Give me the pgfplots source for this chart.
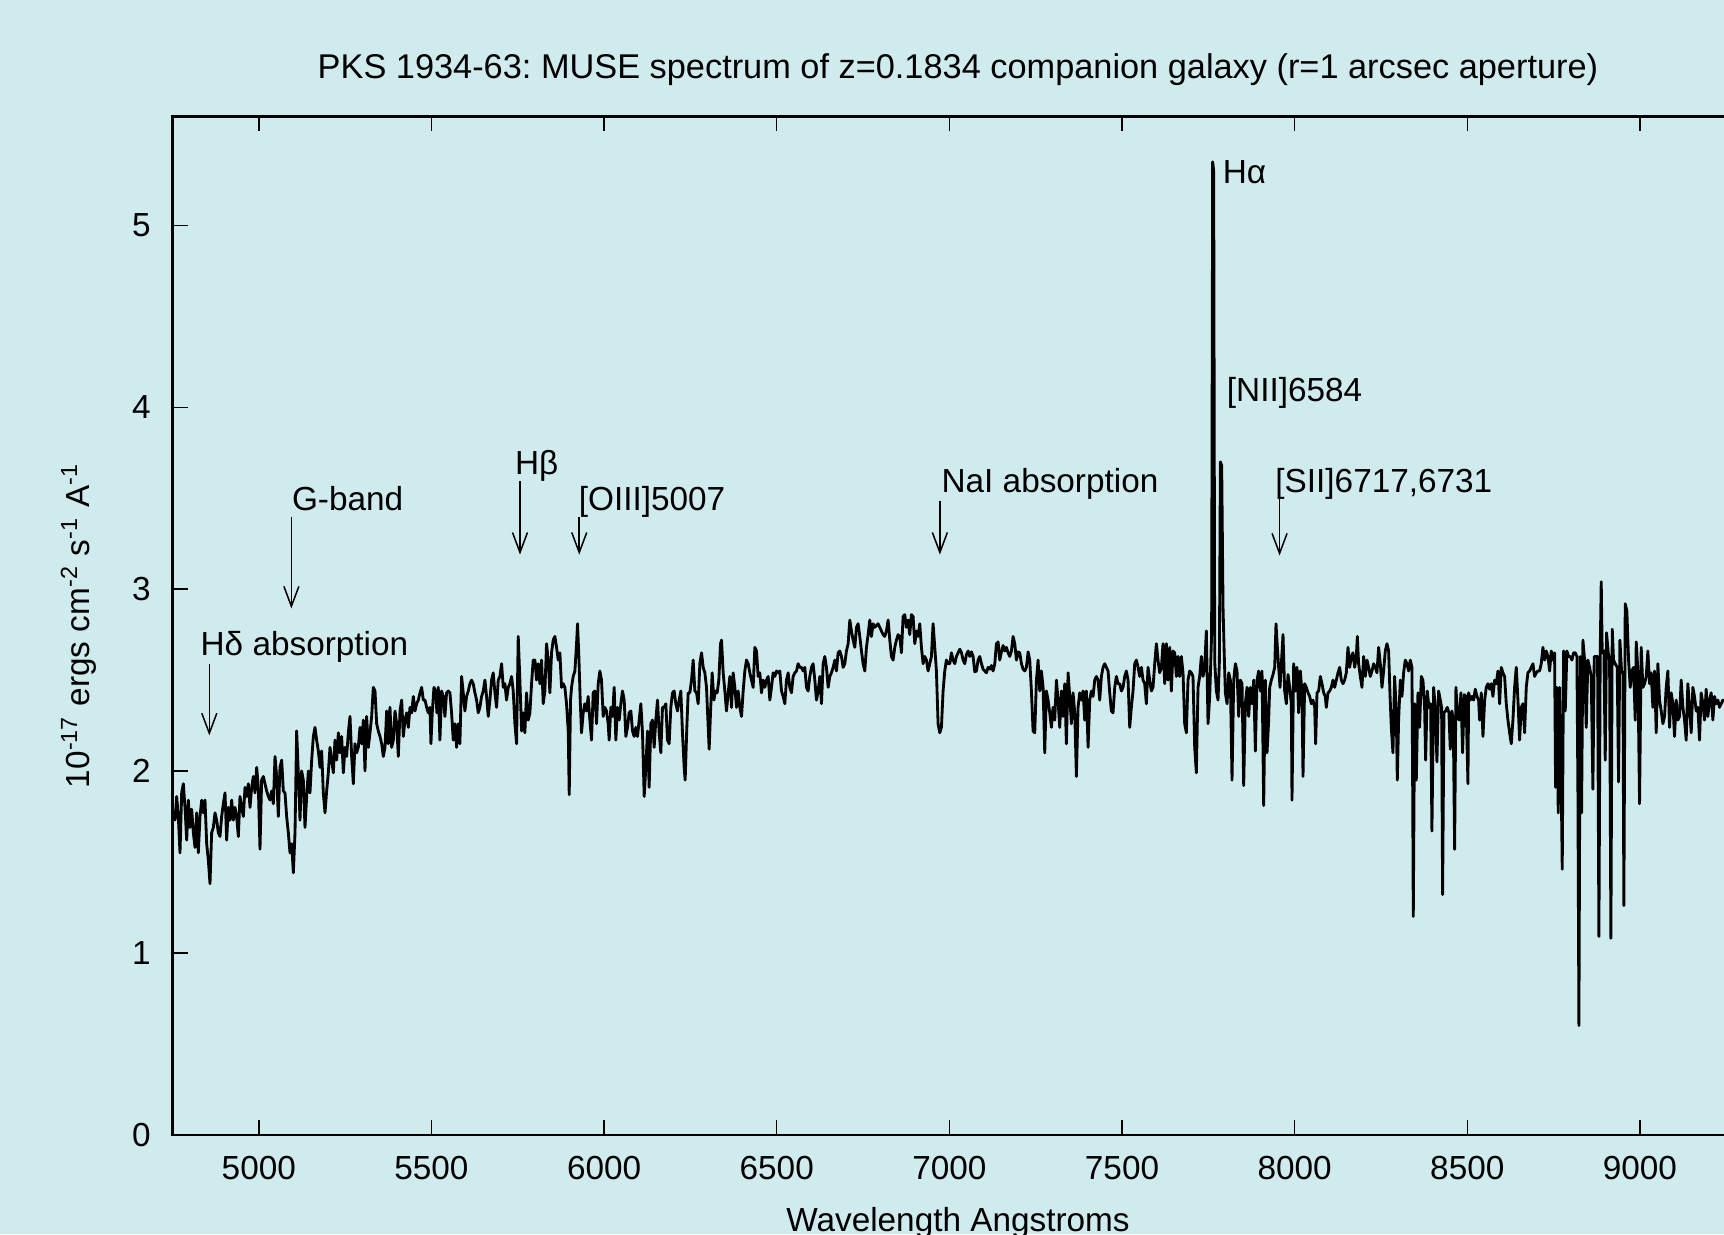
\documentclass[border=0pt]{standalone}
\usepackage{fontspec}
\setmainfont{Liberation Sans}
\usepackage{pgfplots}
\usepackage{pgfplotstable}
\pgfplotsset{compat=1.18}
\usetikzlibrary{arrows.meta}
\definecolor{bg}{RGB}{208,235,238}
\frenchspacing
\pgfplotstableread{
lam f
4751.0 1.78
4757.3 1.73
4762.1 1.86
4766.9 1.75
4771.7 1.55
4776.6 1.88
4781.4 1.93
4786.2 1.80
4791.1 1.62
4795.9 1.84
4800.7 1.69
4805.5 1.79
4810.4 1.66
4815.2 1.58
4820.0 1.77
4824.8 1.55
4829.7 1.75
4834.5 1.84
4839.3 1.77
4844.1 1.84
4849.0 1.60
4853.8 1.51
4858.6 1.38
4863.4 1.66
4868.3 1.69
4873.1 1.77
4877.9 1.73
4882.8 1.66
4887.6 1.64
4892.4 1.75
4897.2 1.82
4902.1 1.88
4906.9 1.62
4911.7 1.80
4916.5 1.73
4921.4 1.84
4926.2 1.73
4931.0 1.80
4935.8 1.75
4940.7 1.64
4945.5 1.86
4950.3 1.80
4955.2 1.75
4960.0 1.91
4964.8 1.86
4969.6 1.93
4974.5 1.80
4979.3 1.91
4984.1 1.97
4988.9 1.88
4993.8 2.02
4998.6 1.91
5003.4 1.57
5008.2 1.95
5013.1 1.97
5017.9 1.93
5022.7 1.89
5027.6 1.86
5032.4 1.84
5037.2 1.89
5042.0 1.82
5046.9 2.08
5051.7 1.97
5056.5 1.75
5061.3 2.02
5066.2 2.06
5071.0 1.89
5075.8 1.88
5080.6 1.75
5085.5 1.66
5090.3 1.55
5095.1 1.60
5100.0 1.44
5104.8 1.66
5109.6 2.22
5114.4 1.99
5119.3 1.73
5124.1 2.00
5128.9 1.95
5133.7 1.69
5138.6 1.86
5143.4 2.00
5148.2 1.88
5153.1 2.06
5157.9 2.19
5162.7 2.24
5167.5 2.17
5172.4 2.11
5177.2 2.02
5182.0 2.11
5186.8 1.88
5191.7 1.77
5196.5 1.89
5201.3 1.99
5206.1 2.13
5211.0 2.06
5215.8 1.99
5220.6 2.17
5225.5 2.06
5230.3 2.21
5235.1 2.10
5239.9 2.19
5244.8 1.99
5249.6 2.13
5254.4 2.08
5259.2 2.21
5264.1 2.30
5268.9 2.08
5273.7 1.93
5278.5 2.15
5283.4 2.10
5288.2 2.13
5293.0 2.24
5297.9 2.15
5302.7 2.28
5307.5 2.00
5312.3 2.30
5317.2 2.13
5322.0 2.21
5326.8 2.30
5331.6 2.46
5336.5 2.44
5341.3 2.26
5346.1 2.22
5351.0 2.19
5355.8 2.15
5360.6 2.08
5365.4 2.13
5370.3 2.33
5375.1 2.15
5379.9 2.35
5384.7 2.13
5389.6 2.17
5394.4 2.33
5399.2 2.26
5404.0 2.08
5408.9 2.33
5413.7 2.39
5418.5 2.19
5423.4 2.28
5428.2 2.32
5433.0 2.24
5437.8 2.35
5442.7 2.32
5447.5 2.41
5452.3 2.33
5457.1 2.37
5462.0 2.39
5466.8 2.43
5471.6 2.46
5476.4 2.39
5481.3 2.39
5486.1 2.35
5490.8 2.32
5495.6 2.35
5498.5 2.15
5502.3 2.32
5507.2 2.46
5512.0 2.44
5515.8 2.32
5519.7 2.46
5524.5 2.17
5529.4 2.44
5534.2 2.41
5539.0 2.30
5543.8 2.43
5548.7 2.44
5553.5 2.43
5558.3 2.32
5563.1 2.17
5568.0 2.26
5572.8 2.13
5577.6 2.26
5582.4 2.15
5587.3 2.52
5592.1 2.43
5596.9 2.33
5601.7 2.41
5606.6 2.44
5611.4 2.48
5616.2 2.50
5621.0 2.48
5625.9 2.43
5630.7 2.39
5635.5 2.32
5640.3 2.35
5645.2 2.41
5650.0 2.44
5654.8 2.50
5659.6 2.41
5664.5 2.30
5669.3 2.39
5674.1 2.50
5678.9 2.54
5683.8 2.43
5688.6 2.35
5693.4 2.50
5698.2 2.52
5703.1 2.59
5707.9 2.46
5712.7 2.48
5717.5 2.39
5722.4 2.46
5727.2 2.48
5732.0 2.52
5736.8 2.44
5741.7 2.26
5746.5 2.15
5751.3 2.74
5756.1 2.50
5761.0 2.22
5765.8 2.32
5770.6 2.21
5775.4 2.43
5780.3 2.28
5785.1 2.32
5789.9 2.48
5794.7 2.61
5799.6 2.61
5804.4 2.50
5809.2 2.59
5814.0 2.48
5818.9 2.61
5823.7 2.37
5828.5 2.44
5833.3 2.70
5838.2 2.61
5843.0 2.43
5847.8 2.65
5852.6 2.72
5857.5 2.74
5862.3 2.68
5867.1 2.61
5871.9 2.65
5876.8 2.46
5881.6 2.48
5886.4 2.46
5891.2 2.37
5896.1 2.22
5899.0 1.87
5902.8 2.39
5905.7 2.46
5910.5 2.52
5915.4 2.55
5920.2 2.70
5923.1 2.81
5926.9 2.63
5930.8 2.39
5934.6 2.21
5939.5 2.32
5944.3 2.37
5949.1 2.33
5953.9 2.41
5958.8 2.28
5963.6 2.17
5968.4 2.43
5973.2 2.44
5978.1 2.26
5982.9 2.48
5987.7 2.55
5992.5 2.50
5997.4 2.30
6002.2 2.35
6007.0 2.33
6011.8 2.26
6014.7 2.17
6019.6 2.35
6024.4 2.30
6029.2 2.46
6034.0 2.17
6038.9 2.35
6043.7 2.28
6048.5 2.37
6053.3 2.44
6058.2 2.39
6063.0 2.19
6067.8 2.24
6072.6 2.32
6077.5 2.33
6082.3 2.22
6087.1 2.19
6091.9 2.24
6096.8 2.19
6101.6 2.28
6106.4 2.37
6111.2 2.21
6116.1 1.86
6120.9 2.02
6125.7 2.22
6130.5 1.91
6135.4 2.26
6140.2 2.28
6145.0 2.13
6149.8 2.28
6154.7 2.39
6159.5 2.21
6164.3 2.10
6169.1 2.35
6174.0 2.35
6178.8 2.37
6183.6 2.17
6188.4 2.15
6193.3 2.35
6198.1 2.43
6202.9 2.44
6207.7 2.37
6212.6 2.33
6217.4 2.39
6222.2 2.44
6227.0 2.21
6231.9 2.02
6234.8 1.95
6239.6 2.24
6243.5 2.43
6248.4 2.43
6253.2 2.50
6258.0 2.61
6262.9 2.44
6267.7 2.43
6272.5 2.37
6277.3 2.59
6282.2 2.65
6287.0 2.57
6291.8 2.54
6296.6 2.46
6301.5 2.24
6304.3 2.12
6308.2 2.32
6313.0 2.54
6317.9 2.39
6322.7 2.44
6327.5 2.43
6332.3 2.50
6337.2 2.70
6340.1 2.72
6344.9 2.54
6349.7 2.44
6354.5 2.33
6359.4 2.43
6364.2 2.52
6369.0 2.35
6373.8 2.54
6378.7 2.46
6383.5 2.35
6388.3 2.44
6393.1 2.35
6398.0 2.30
6402.8 2.44
6407.6 2.55
6412.4 2.61
6417.3 2.59
6422.1 2.54
6426.9 2.50
6431.7 2.46
6436.6 2.68
6441.4 2.66
6446.2 2.52
6451.0 2.54
6455.9 2.43
6460.7 2.50
6465.5 2.46
6470.3 2.50
6475.2 2.52
6480.0 2.39
6484.8 2.46
6489.6 2.54
6494.5 2.52
6499.3 2.55
6504.1 2.54
6508.9 2.55
6513.8 2.44
6518.6 2.41
6523.4 2.37
6528.2 2.50
6533.1 2.54
6537.9 2.46
6542.7 2.43
6547.5 2.52
6552.4 2.54
6557.2 2.55
6562.0 2.59
6566.8 2.57
6571.7 2.57
6576.5 2.55
6581.3 2.57
6586.1 2.46
6591.0 2.44
6595.8 2.52
6600.6 2.57
6605.4 2.59
6610.3 2.50
6615.1 2.39
6619.9 2.44
6624.7 2.52
6629.6 2.37
6634.4 2.59
6639.2 2.63
6644.0 2.57
6648.9 2.46
6653.7 2.52
6658.5 2.54
6663.3 2.57
6668.2 2.61
6673.0 2.55
6677.8 2.65
6682.6 2.66
6687.5 2.63
6692.3 2.57
6697.1 2.59
6701.9 2.66
6706.8 2.70
6711.6 2.83
6716.4 2.77
6721.2 2.72
6726.1 2.68
6730.9 2.79
6735.7 2.81
6740.5 2.74
6745.4 2.66
6750.2 2.59
6755.0 2.55
6759.8 2.68
6764.7 2.75
6769.5 2.83
6774.3 2.74
6779.1 2.81
6784.0 2.79
6788.8 2.80
6793.6 2.81
6798.4 2.79
6803.3 2.77
6808.1 2.75
6812.9 2.74
6817.7 2.77
6822.6 2.83
6827.4 2.72
6832.2 2.63
6837.0 2.61
6841.9 2.68
6846.7 2.72
6851.5 2.75
6856.3 2.74
6861.2 2.65
6866.0 2.85
6870.8 2.86
6875.6 2.79
6880.5 2.83
6885.3 2.75
6890.1 2.86
6894.9 2.85
6899.8 2.70
6904.6 2.77
6909.4 2.74
6914.2 2.81
6919.1 2.68
6923.9 2.59
6928.7 2.63
6933.5 2.61
6938.4 2.55
6943.2 2.59
6948.0 2.63
6952.8 2.81
6957.7 2.68
6962.5 2.55
6967.3 2.26
6972.1 2.21
6977.0 2.24
6981.8 2.44
6986.6 2.55
6991.4 2.61
6996.3 2.59
7001.2 2.59
7006.0 2.65
7010.8 2.61
7015.7 2.59
7020.5 2.63
7025.3 2.65
7030.1 2.67
7035.0 2.65
7039.8 2.61
7044.6 2.59
7049.4 2.64
7054.3 2.66
7059.1 2.63
7063.9 2.655
7068.7 2.63
7073.6 2.545
7078.4 2.55
7083.2 2.61
7088.0 2.63
7092.9 2.59
7097.7 2.56
7102.5 2.55
7107.3 2.54
7112.2 2.57
7117.0 2.56
7121.8 2.58
7126.6 2.55
7131.5 2.59
7136.3 2.70
7141.1 2.71
7145.9 2.61
7150.8 2.655
7155.6 2.69
7160.4 2.66
7165.2 2.68
7170.1 2.65
7174.9 2.63
7179.7 2.66
7184.5 2.74
7189.4 2.70
7194.2 2.61
7199.0 2.655
7203.8 2.65
7208.7 2.59
7213.5 2.56
7218.3 2.55
7223.1 2.57
7228.0 2.655
7232.8 2.61
7237.6 2.44
7242.4 2.22
7247.3 2.21
7252.1 2.50
7256.9 2.61
7261.7 2.44
7266.6 2.55
7271.4 2.46
7276.2 2.10
7281.0 2.44
7285.9 2.39
7290.7 2.32
7295.5 2.24
7300.3 2.35
7305.2 2.28
7310.0 2.50
7314.8 2.39
7319.6 2.24
7324.5 2.44
7329.3 2.30
7334.1 2.48
7338.9 2.15
7343.8 2.54
7348.6 2.41
7353.4 2.26
7358.2 2.43
7363.1 2.32
7367.9 1.97
7372.7 2.35
7377.5 2.43
7382.4 2.39
7387.2 2.44
7392.0 2.28
7396.8 2.44
7401.7 2.13
7406.5 2.39
7411.3 2.44
7416.1 2.41
7421.0 2.50
7425.8 2.52
7430.6 2.50
7435.4 2.39
7440.3 2.52
7445.1 2.57
7449.9 2.59
7454.7 2.57
7459.6 2.55
7464.4 2.43
7469.2 2.33
7474.0 2.32
7478.9 2.46
7483.7 2.52
7488.5 2.48
7493.3 2.48
7498.2 2.44
7503.0 2.46
7507.8 2.52
7512.6 2.55
7517.5 2.50
7522.3 2.24
7527.1 2.35
7531.9 2.44
7536.8 2.59
7541.6 2.61
7546.4 2.57
7551.2 2.52
7556.1 2.57
7560.9 2.50
7565.7 2.48
7570.5 2.37
7575.4 2.57
7580.2 2.50
7585.0 2.44
7589.8 2.46
7594.7 2.59
7599.5 2.70
7604.3 2.61
7609.1 2.54
7614.0 2.57
7618.8 2.70
7623.6 2.48
7628.4 2.70
7633.3 2.50
7638.1 2.68
7642.9 2.44
7647.7 2.66
7652.6 2.65
7657.4 2.52
7662.2 2.63
7667.0 2.52
7671.9 2.63
7676.7 2.54
7681.5 2.26
7686.3 2.21
7691.2 2.50
7696.0 2.55
7700.8 2.54
7705.6 2.52
7710.5 2.13
7715.3 1.99
7720.1 2.46
7724.9 2.52
7729.8 2.63
7734.6 2.52
7739.4 2.57
7744.2 2.77
7749.1 2.26
7754.0 2.41
7759.5 2.75
7762.5 5.35
7765.5 5.30
7768.5 2.60
7773.3 2.44
7778.1 2.39
7782.0 2.60
7784.9 3.70
7788.7 3.68
7792.6 2.90
7795.5 2.68
7799.3 2.43
7804.2 2.37
7809.0 2.54
7813.8 2.50
7818.6 1.95
7823.5 2.50
7828.3 2.59
7833.1 2.55
7837.9 2.30
7842.8 2.50
7847.6 2.48
7852.4 1.92
7857.2 2.37
7862.1 2.46
7866.9 2.30
7871.7 2.46
7876.5 2.37
7881.4 2.50
7886.2 2.11
7891.0 2.50
7895.8 2.55
7900.7 2.44
7905.5 2.55
7910.3 1.81
7915.1 2.50
7920.0 2.10
7924.8 2.28
7927.7 2.46
7932.5 2.50
7937.3 2.53
7942.2 2.57
7946.0 2.81
7949.9 2.68
7953.7 2.57
7957.6 2.46
7961.5 2.59
7966.3 2.75
7971.1 2.44
7975.9 2.37
7980.8 2.53
7985.6 2.46
7990.4 2.37
7992.3 1.84
7997.2 2.59
8002.0 2.44
8006.8 2.57
8011.6 2.32
8016.5 2.55
8021.3 2.43
8024.2 1.97
8029.0 2.48
8033.8 2.46
8038.7 2.43
8043.5 2.41
8048.3 2.37
8053.1 2.39
8058.0 2.35
8060.8 2.15
8064.7 2.43
8069.5 2.44
8074.4 2.52
8079.2 2.48
8084.0 2.43
8088.8 2.41
8091.7 2.35
8096.6 2.43
8101.4 2.44
8106.2 2.46
8111.0 2.50
8115.9 2.46
8120.7 2.50
8125.5 2.54
8130.3 2.57
8135.2 2.50
8140.0 2.48
8144.8 2.50
8149.6 2.54
8154.5 2.68
8159.3 2.57
8164.1 2.63
8168.9 2.65
8173.8 2.57
8178.6 2.63
8181.5 2.74
8185.3 2.59
8190.2 2.52
8195.0 2.46
8199.8 2.63
8204.6 2.52
8209.5 2.61
8214.3 2.57
8219.1 2.52
8223.9 2.55
8228.8 2.59
8233.6 2.57
8238.4 2.54
8243.2 2.68
8248.1 2.59
8252.9 2.46
8257.7 2.55
8262.5 2.66
8267.4 2.70
8272.2 2.66
8276.0 2.43
8279.9 2.24
8284.7 2.10
8289.6 2.52
8294.4 2.32
8297.3 1.95
8301.1 2.28
8306.0 2.50
8310.8 2.41
8315.6 2.54
8320.4 2.61
8325.3 2.59
8330.1 2.55
8334.9 2.61
8339.7 2.57
8341.7 1.95
8343.6 1.20
8347.5 2.37
8352.3 1.95
8357.1 2.43
8361.9 2.24
8366.8 2.52
8371.6 2.50
8376.4 2.35
8379.3 2.06
8384.1 2.44
8389.0 2.35
8393.8 2.37
8397.6 1.67
8402.5 2.46
8407.3 2.35
8412.1 2.05
8416.9 2.44
8421.8 2.39
8425.6 2.35
8428.5 1.32
8432.4 2.32
8437.2 2.33
8442.0 2.35
8446.8 2.32
8450.7 2.12
8455.5 2.33
8459.4 2.28
8463.3 1.57
8467.1 2.46
8471.9 2.30
8476.8 2.28
8481.6 2.43
8486.4 2.10
8491.2 2.42
8496.1 2.41
8501.9 1.93
8503.9 2.43
8508.7 2.39
8513.5 2.41
8518.3 2.39
8523.2 2.45
8528.0 2.41
8532.8 2.39
8535.7 2.28
8540.5 2.43
8545.4 2.19
8550.2 2.39
8555.0 2.46
8559.8 2.48
8564.7 2.45
8569.5 2.48
8574.3 2.41
8579.1 2.50
8584.0 2.48
8588.8 2.55
8593.6 2.37
8598.4 2.57
8603.3 2.54
8608.1 2.52
8612.9 2.37
8617.7 2.28
8622.6 2.21
8627.4 2.15
8632.2 2.28
8637.0 2.46
8641.9 2.57
8646.7 2.39
8651.5 2.17
8656.3 2.35
8661.2 2.37
8666.0 2.21
8670.8 2.46
8675.6 2.54
8680.5 2.55
8685.3 2.57
8690.1 2.59
8694.9 2.52
8699.8 2.54
8704.6 2.55
8709.4 2.55
8714.2 2.59
8719.1 2.68
8723.9 2.61
8728.7 2.66
8733.5 2.63
8738.4 2.55
8743.2 2.66
8748.0 2.61
8752.8 2.65
8755.7 1.91
8759.6 2.46
8763.4 1.77
8767.3 2.46
8771.2 2.06
8775.0 1.46
8778.9 2.66
8783.7 2.33
8788.5 2.66
8793.4 2.63
8798.2 2.63
8803.0 2.61
8807.8 2.65
8812.7 2.65
8817.5 2.63
8820.4 1.88
8823.3 0.60
8827.1 2.63
8831.0 1.77
8834.9 2.72
8839.7 2.61
8844.5 2.24
8849.3 2.61
8854.2 2.57
8859.0 2.52
8863.8 1.90
8867.7 2.63
8872.5 2.63
8877.3 2.63
8881.2 1.09
8885.0 2.66
8887.9 3.04
8890.8 2.65
8895.6 2.66
8899.5 2.06
8903.4 2.76
8908.2 2.65
8912.1 2.61
8915.9 1.08
8919.8 2.78
8923.6 2.61
8928.5 2.59
8934.2 2.57
8938.1 1.94
8942.0 2.72
8946.8 2.55
8950.7 2.54
8953.5 1.26
8957.4 2.92
8962.2 2.88
8967.1 2.61
8971.9 2.46
8976.7 2.55
8981.5 2.57
8986.4 2.28
8989.3 2.71
8994.1 2.55
8998.9 1.82
9003.7 2.68
9008.6 2.46
9013.4 2.48
9018.2 2.52
9023.0 2.66
9027.9 2.48
9032.7 2.54
9037.5 2.35
9042.3 2.55
9047.2 2.21
9052.0 2.59
9056.8 2.39
9061.6 2.33
9066.5 2.26
9071.3 2.30
9076.1 2.46
9080.9 2.55
9085.8 2.24
9090.6 2.43
9095.4 2.37
9100.2 2.19
9105.1 2.39
9109.9 2.28
9114.7 2.30
9119.5 2.50
9124.4 2.35
9129.2 2.28
9134.0 2.17
9138.8 2.48
9143.7 2.35
9148.5 2.21
9153.3 2.46
9158.1 2.41
9163.0 2.33
9167.8 2.35
9172.6 2.17
9177.4 2.43
9182.3 2.37
9187.1 2.28
9191.9 2.45
9196.7 2.30
9201.6 2.39
9206.4 2.43
9211.2 2.28
9216.0 2.41
9220.9 2.37
9225.7 2.39
9230.5 2.35
9235.4 2.37
9240.2 2.39
9250.0 2.38
9260.0 2.40
9270.0 2.36
9280.0 2.39
9290.0 2.37
}\spectrum
\begin{document}
\begin{tikzpicture}
\useasboundingbox (0,0) rectangle (517.2pt,370.2pt);
\fill[bg] (0,0) rectangle (517.2pt,370.2pt);
\begin{axis}[
  at={(51.75pt,29.79pt)}, anchor=south west,
  scale only axis, width=471.3pt, height=305.5pt,
  xmin=4750, xmax=9300, ymin=0, ymax=5.6,
  xtick={5000,5500,6000,6500,7000,7500,8000,8500,9000},
  ytick={0,1,2,3,4,5},
  minor tick num=0,
  tick align=inside, major tick length=4.5pt,
  every tick/.style={black, line width=0.45pt},
  axis line style={line width=0.7pt},
  /pgf/number format/assume math mode=true,
  /pgf/number format/1000 sep={},
  xticklabel style={anchor=base, yshift=-13.5pt, inner sep=0pt},
  yticklabel style={anchor=east, xshift=-3pt},
  title={PKS 1934-63: MUSE spectrum of z=0.1834 companion galaxy (r=1 arcsec aperture)},
  title style={at={(rel axis cs:0.5,1)}, anchor=base, yshift=5.3pt, inner sep=0pt, font=\fontsize{10.3}{12}\selectfont},
  xlabel={Wavelength Angstroms},
  xlabel style={at={(rel axis cs:0.5,0)}, anchor=base, yshift=-29pt, inner sep=0pt},
  ylabel={10\textsuperscript{-17} ergs cm\textsuperscript{-2} s\textsuperscript{-1} A\textsuperscript{-1}},
  ylabel style={at={(rel axis cs:0,0.5)}, anchor=base, inner sep=0pt, yshift=25pt},
]
\addplot[black, line width=0.85pt, line join=round] table[x=lam, y=f] {\spectrum};
\tikzset{lbl/.style={anchor=base west, inner sep=0pt},
         arr/.style={-{Straight Barb[length=6pt,width=4.5pt]}, line width=0.45pt}}
\node[lbl] at (axis cs:4829.6,2.636) {Hδ absorption};
\draw[arr] (axis cs:4856.6,2.59) -- (axis cs:4856.6,2.196);
\node[lbl] at (axis cs:5094.3,3.43) {G-band};
\draw[arr] (axis cs:5094.3,3.395) -- (axis cs:5094.3,2.894);
\node[lbl] at (axis cs:5740.5,3.63) {Hβ};
\draw[arr] (axis cs:5756.4,3.595) -- (axis cs:5756.4,3.19);
\node[lbl] at (axis cs:5925,3.43) {[OIII]5007};
\draw[arr] (axis cs:5928,3.395) -- (axis cs:5928,3.19);
\node[lbl] at (axis cs:6975.6,3.53) {NaI absorption};
\draw[arr] (axis cs:6972.5,3.486) -- (axis cs:6972.5,3.19);
\node[lbl] at (axis cs:7790,5.23) {Hα};
\node[lbl] at (axis cs:7802,4.03) {[NII]6584};
\node[lbl] at (axis cs:7942.4,3.533) {[SII]6717,6731};
\draw[arr] (axis cs:7956.3,3.497) -- (axis cs:7956.3,3.185);
\end{axis}
\end{tikzpicture}
\end{document}
